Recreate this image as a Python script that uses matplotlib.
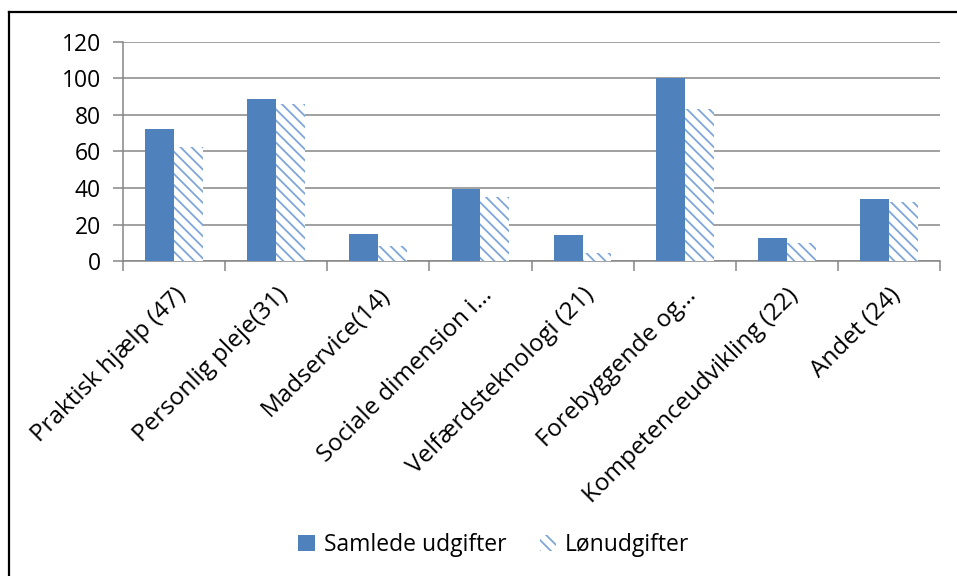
import matplotlib
matplotlib.use("Agg")
import matplotlib.pyplot as plt
from matplotlib.patches import Patch
from matplotlib.lines import Line2D
from matplotlib.transforms import ScaledTranslation
import numpy as np

categories = ["Praktisk hjælp (47)", "Personlig pleje(31)", "Madservice(14)",
              "Sociale dimension i…", "Velfærdsteknologi (21)", "Forebyggende og…",
              "Kompetenceudvikling (22)", "Andet (24)"]
samlede = [72.5, 88.5, 15, 39.5, 14.5, 100, 13, 34]
loen = [62.7, 85.8, 8.4, 35.1, 4.4, 83, 10, 32.2]
series_names = ["Samlede udgifter", "Lønudgifter"]
yticks = [0, 20, 40, 60, 80, 100, 120]

plt.rcParams['font.family'] = ['Open Sans', 'DejaVu Sans']
plt.rcParams['hatch.linewidth'] = 1.3

W, H = 957, 576
fig = plt.figure(figsize=(W/100, H/100), dpi=100)
ax = fig.add_axes([123/W, 1-261.3/H, (940-123)/W, (261.3-41.7)/H])

grid_c = '#868686'
solid_c = '#4F81BD'
hatch_c = '#7EA6DA'

x = np.arange(len(categories))
bw = 0.283
ax.bar(x - bw/2, samlede, bw, color=solid_c, linewidth=0, zorder=3)
ax.bar(x + bw/2, loen, bw, facecolor='white', edgecolor=hatch_c, hatch='\\\\\\', linewidth=0, zorder=3)

ax.set_xlim(-0.5, len(categories) - 0.5)
ax.set_ylim(0, 120)
ax.set_yticks(yticks)
ax.yaxis.grid(True, color=grid_c, linewidth=1.1, zorder=0)
ax.set_axisbelow(True)
for s in ['top', 'right']:
    ax.spines[s].set_visible(False)
for s in ['left', 'bottom']:
    ax.spines[s].set_color(grid_c)
    ax.spines[s].set_linewidth(1.1)

ax.set_xticks(np.arange(-0.5, len(categories)), minor=False)
ax.set_xticklabels([])
ax.set_xticks(x, minor=True)
ax.set_xticklabels(categories, minor=True, rotation=45, ha='right', va='center',
                   rotation_mode='anchor', fontsize=17.5)
ax.tick_params(axis='x', which='major', length=7, width=1.1, color=grid_c, direction='out')
ax.tick_params(axis='x', which='minor', length=0, pad=22)
ax.tick_params(axis='y', length=7, width=1.1, color=grid_c, labelsize=16.5, pad=9)

off = ScaledTranslation(8/100, 0, fig.dpi_scale_trans)
for lbl in ax.xaxis.get_minorticklabels():
    lbl.set_transform(lbl.get_transform() + off)

handles = [Patch(facecolor=solid_c, linewidth=0),
           Patch(facecolor='white', edgecolor=hatch_c, hatch='\\\\\\', linewidth=0)]
fig.legend(handles, series_names, loc='center', bbox_to_anchor=(0.516, 1-545/H), ncol=2,
           frameon=False, fontsize=16.5, handlelength=0.72, handleheight=0.72,
           handletextpad=0.4, columnspacing=1.45)

fig.lines.append(Line2D([9/W, 1], [1-12/H, 1-12/H], transform=fig.transFigure,
                        color='black', linewidth=1.6))
fig.lines.append(Line2D([9/W, 9/W], [0, 1-12/H], transform=fig.transFigure,
                        color='black', linewidth=1.6))

fig.savefig('out.png', dpi=100)
